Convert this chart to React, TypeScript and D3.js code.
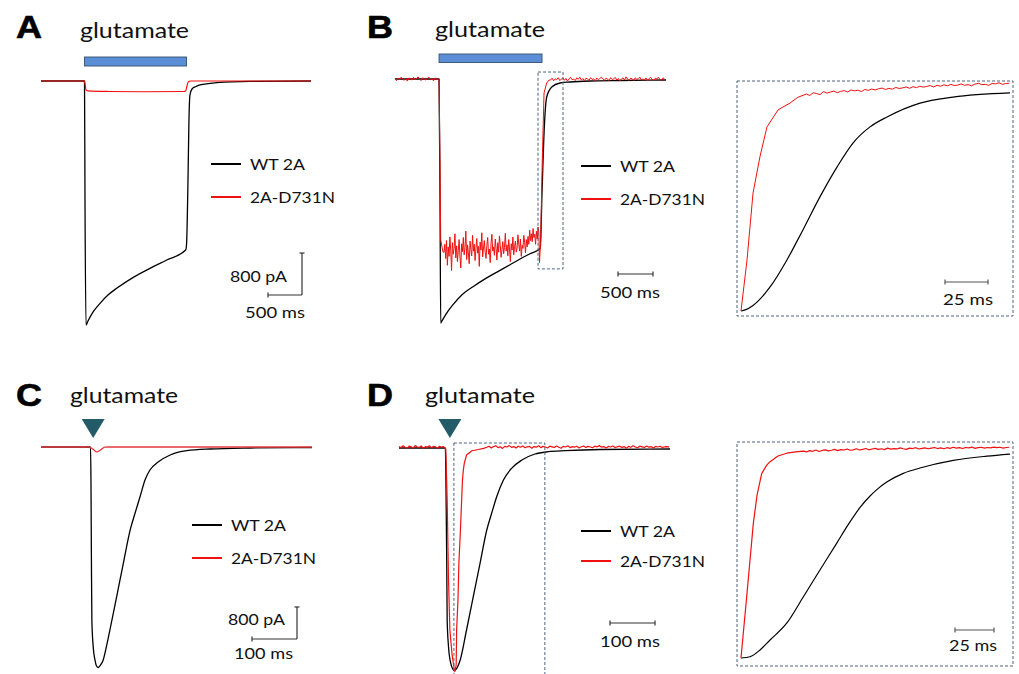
import React from 'react';
import * as d3 from 'd3';

type P = [number, number];

// ---------- helpers to assemble sampled segments ----------
const seg = (start: number, step: number, vals: number[]): P[] => vals.map((v, i) => [start + i * step, v] as P);
const merge = (...parts: P[][]): P[] => parts.flat().sort((a, b) => a[0] - b[0]);

// ---------- Panel A (time ms, current pA) ----------
const aGlutamate: [number, number] = [640, 2140];
const aBlack: P[] = [[0,0],[640,0],[647,-2268],[662,-4650],[691,-4574],[769,-4397],[868,-4237],[985,-4079],[1113,-3951],[1357,-3742],[1603,-3570],[1849,-3412],[2128,-3221],[2140,-3126],[2162,-1887],[2176,-743],[2191,-267],[2221,-152],[2279,-105],[2338,-76],[2584,-32],[3074,-6],[3971,0]];
const aRed: P[] = [[0,0],[640,0],[651,-80],[662,-170],[691,-190],[1000,-200],[1500,-205],[2100,-200],[2128,-190],[2150,-80],[2170,-10],[2200,0],[3971,0]];

// ---------- Panel B ----------
const bGlutamate: [number, number] = [629, 2100];
const bZoomWindow = { t: [2043, 2400], i: [133, -3619] };
const bBlack: P[] = [[0,0],[629,0],[643,-2300],[653,-4650],[671,-4610],[729,-4480],[829,-4300],[957,-4110],[1114,-3960],[1286,-3810],[1457,-3680],[1643,-3540],[1786,-3430],[1929,-3330],[2075,-3230],[2100,-2170],[2133,-914],[2167,-343],[2239,-152],[2357,-76],[2500,-57],[2786,-38],[3214,-29],[3871,-19]];
const bRedKeys: P[] = [[629,0],[643,-1543],[653,-3067],[686,-3300],[2056,-2950],[2064,-3500],[2080,-3100],[2104,-1543],[2129,-267],[2167,-76],[2200,-20]];
const bRedPre = [10,-30,20,-10,35,0,-25,15,-40,20,5,-20,30,-15,10,40,-5,-30,25,0,-20,15,35,-10,5,-35,20,0];
const bRedPlateau = [
  -3300,-3150,-3420,-3080,-3550,-3200,-3380,-3010,-3260,-3650,
  -3120,-3340,-3230,-2950,-3410,-3180,-3480,-3270,-3060,-3390,
  -3600,-3140,-3290,-3020,-3350,-3210,-2900,-3440,-3160,-3310,
  -3520,-3090,-3250,-3370,-2980,-3280,-3150,-3460,-3230,-3040,
  -3320,-3190,-3570,-3110,-3260,-2930,-3390,-3220,-3080,-3300,
  -3420,-3170,-3020,-3340,-3240,-3500,-3130,-2960,-3280,-3200,
  -3360,-3050,-3230,-3450,-3120,-3300,-2990,-3180,-3400,-3250,
  -3100,-3330,-3210,-2940,-3280,-3160,-3370,-3060,-3240,-3480,
  -3140,-3260,-3010,-3350,-3190,-3090,-3300,-3220,-2970,-3150,
  -3280,-3050,-3380,-3170,-3230,-2980,-3120,-3310,-3060,-3200,
  -3000,-3150,-2880,-3080,-2950,-3100,-2850,-3020,-2960,-3150,
  -2900,-3050,-2820];
const bRedPost = [-20,15,-35,5,-10,25,-30,0,20,-25,10,-40,5,30,-15,0,-30,20,-5,35,
  -20,10,-35,15,0,-25,25,-10,5,-40,20,-15,10,35,-5,-25,15,0,-30,25,
  -10,5,30,-20,10,-35,0,20,-15,40,-5,-25,15,5,-30,25,-10,10,35,-20,
  0,-15,20,-35,10,30,-5,-25,15,0,35,-10,-30,20,5];
const bRed: P[] = merge(seg(0, 22, bRedPre), bRedKeys, seg(700, 12, bRedPlateau), seg(2222, 22, bRedPost));

// ---------- Panel B inset (ms, normalized current) ----------
const biBlack: P[] = [[0,-1],[2.5,-0.995],[7,-0.976],[16.9,-0.896],[26.7,-0.779],[36,-0.649],[45.9,-0.506],[55.8,-0.377],[65.1,-0.273],[75,-0.203],[84.9,-0.160],[104.1,-0.100],[123.3,-0.074],[156.4,-0.056]];
const biRedKeys: P[] = [[0,-1],[3.5,-0.779],[7,-0.489],[11,-0.333],[15.1,-0.203],[21.5,-0.130],[24.4,-0.117],[28.5,-0.100],[33,-0.075]];
const biRedTail = [
  -0.061,-0.067,-0.055,-0.059,-0.063,-0.050,-0.057,-0.052,-0.048,-0.055,
  -0.049,-0.046,-0.052,-0.043,-0.047,-0.044,-0.050,-0.041,-0.045,-0.039,
  -0.043,-0.038,-0.035,-0.041,-0.036,-0.040,-0.032,-0.037,-0.034,-0.030,
  -0.036,-0.029,-0.033,-0.027,-0.031,-0.028,-0.024,-0.030,-0.023,-0.027,
  -0.021,-0.025,-0.019,-0.024,-0.022,-0.017,-0.023,-0.020,-0.025,-0.018,
  -0.014,-0.020,-0.019,-0.023,-0.015,-0.017,-0.012,-0.019,-0.015,-0.014];
const biRed: P[] = merge(biRedKeys, seg(38, 2, biRedTail));

// ---------- Panel C ----------
const cPuffTime = 117;
const cBlack: P[] = [[0,0],[110,0],[111,-825],[112,-2825],[113,-4325],[116,-4993],[120,-5325],[123,-5463],[127,-5508],[132,-5450],[138,-5325],[146,-4950],[153,-4575],[168,-3742],[183,-2900],[198,-2075],[209,-1650],[220,-1243],[231,-825],[242,-575],[261,-368],[287,-200],[324,-93],[376,-50],[464,-25],[602,-12]];
const cRed: P[] = [[0,0],[100,0],[104,10],[109,-10],[116,-60],[124,-120],[129,-100],[136,-40],[142,-5],[150,0],[602,0]];

// ---------- Panel D ----------
const dPuffTime = 112;
const dZoomWindow = { t: [122, 324], i: [125, -5700] };
const dBlack: P[] = [[0,0],[103,0],[104,-550],[106,-2800],[107,-4300],[110,-4968],[115,-5383],[119,-5513],[122,-5568],[128,-5513],[136,-5300],[150,-4550],[165,-3718],[180,-2883],[195,-2050],[206,-1625],[217,-1218],[232,-800],[250,-508],[273,-300],[302,-150],[332,-93],[369,-68],[447,-38],[602,-25]];
const dRedKeys: P[] = [[104,-25],[107,-1300],[110,-3300],[113,-4550],[118,-5175],[122,-5475],[124,-5592],[127,-5425],[128,-4550],[131,-3800],[133,-2875],[136,-2175],[138,-1625],[141,-800],[143,-550],[145,-383],[150,-175],[162,-68],[176,-38],[188,-8]];
const dRedPre = [40,10,55,20,-5,45,30,0,60,25,15,50,-10,35,20,55,5,40,30,-5,45,20,35];
const dRedPost = [20,45,0,35,55,10,30,-10,40,25,60,15,35,0,45,20,50,5,30,40,
  -5,35,20,55,10,40,25,0,45,30,15,50,20,-5,40,25,55,10,35,20,
  45,0,30,50,15,40,25,5,45,30,60,20,35,0,40,25,50,10,30,45,
  15,35,-5,40,20,55,25,5,45,30,15,50,20,35,0,40,25,45,10,30,
  35,20];
const dRed: P[] = merge(seg(0, 4.5, dRedPre), dRedKeys, seg(195, 5, dRedPost));

// ---------- Panel D inset ----------
const diBlack: P[] = [[0,-1],[5.8,-0.994],[12.2,-0.962],[18.6,-0.915],[29.3,-0.836],[40,-0.711],[50.6,-0.585],[61.3,-0.459],[68.8,-0.370],[76.3,-0.290],[82.7,-0.236],[88,-0.200],[93.4,-0.170],[104,-0.129],[114.7,-0.104],[136.1,-0.068],[157.5,-0.048],[172.4,-0.038]];
const diRedKeys: P[] = [[0,-1],[3.65,-0.711],[7.9,-0.365],[10.3,-0.231],[13.3,-0.129],[16.5,-0.090],[18.6,-0.074],[23.7,-0.047],[29.3,-0.034],[35,-0.028]];
const diRedTail = [
  -0.024,-0.028,-0.022,-0.025,-0.019,-0.026,-0.021,-0.018,-0.023,-0.020,
  -0.016,-0.022,-0.017,-0.019,-0.014,-0.020,-0.018,-0.013,-0.019,-0.016,
  -0.012,-0.018,-0.014,-0.011,-0.016,-0.013,-0.017,-0.010,-0.015,-0.012,
  -0.014,-0.009,-0.013,-0.016,-0.010,-0.012,-0.008,-0.014,-0.011,-0.009,
  -0.013,-0.010,-0.007,-0.012,-0.009,-0.013,-0.008,-0.011,-0.006,-0.010,
  -0.008,-0.012,-0.007,-0.009,-0.005,-0.011,-0.008,-0.006,-0.010,-0.007,
  -0.009,-0.005,-0.008,-0.006,-0.010,-0.007,-0.006];
const diRed: P[] = merge(diRedKeys, seg(40, 2, diRedTail));

// ---------- labels ----------
const seriesNames = ['WT 2A', '2A-D731N'];
const stimulusLabel = 'glutamate';
const panelLetters = ['A', 'B', 'C', 'D'];
const scaleCurrent = 800; // pA
const scaleTimeLong = 500; // ms
const scaleTimeShort = 100; // ms
const scaleTimeInset = 25; // ms

const TXT = "Lato, 'Open Sans', sans-serif";
const BOLD = "'Liberation Sans', Arial, sans-serif";
const RED = '#f01010';
const DASH = '#4f617d';
const BAR = '#333';

type Sc = d3.ScaleLinear<number, number>;

function Trace({ data, xs, ys, color, w = 1.2, curve = d3.curveMonotoneX }: { data: P[]; xs: Sc; ys: Sc; color: string; w?: number; curve?: any }) {
  const gen = d3.line<P>().x(d => xs(d[0])).y(d => ys(d[1])).curve(curve);
  return <path d={gen(data) || ''} fill="none" stroke={color} strokeWidth={w} strokeLinejoin="round" />;
}

function T({ x, y, s, len, size = 14.5, anchor = 'start' }: { x: number; y: number; s: string; len?: number; size?: number; anchor?: string }) {
  return (
    <text x={x} y={y} fontFamily={TXT} fontSize={size} fill="#111" textAnchor={anchor as any}
      {...(len ? { textLength: len, lengthAdjust: 'spacingAndGlyphs' } : {})}>{s}</text>
  );
}

function Legend({ x, y1, y2 }: { x: number; y1: number; y2: number }) {
  return (
    <g>
      <line x1={x} x2={x + 30} y1={y1} y2={y1} stroke="#000" strokeWidth={2} />
      <line x1={x} x2={x + 30} y1={y2} y2={y2} stroke={RED} strokeWidth={2} />
      <T x={x + 39} y={y1 + 5.5} s={seriesNames[0]} len={55} />
      <T x={x + 39} y={y2 + 5.5} s={seriesNames[1]} len={85} />
    </g>
  );
}

function HBar({ x, y, w, color = BAR }: { x: number; y: number; w: number; color?: string }) {
  return (
    <g stroke={color} strokeWidth={1.2}>
      <line x1={x} x2={x + w} y1={y} y2={y} />
      <line x1={x} x2={x} y1={y - 2.5} y2={y + 2.5} />
      <line x1={x + w} x2={x + w} y1={y - 2.5} y2={y + 2.5} />
    </g>
  );
}

function LBar({ x, y, w, h }: { x: number; y: number; w: number; h: number }) {
  return (
    <g stroke={BAR} strokeWidth={1.2}>
      <line x1={x - w} x2={x} y1={y} y2={y} />
      <line x1={x} x2={x} y1={y - h} y2={y} />
      <line x1={x - w} x2={x - w} y1={y - 2.5} y2={y + 2.5} />
      <line x1={x - 2.5} x2={x + 2.5} y1={y - h} y2={y - h} />
    </g>
  );
}

function Label({ x, y, s }: { x: number; y: number; s: string }) {
  return <text x={x} y={y} fontFamily={BOLD} fontWeight={700} fontSize={32} fill="#000" stroke="#000" strokeWidth={0.6} textLength={26} lengthAdjust="spacingAndGlyphs">{s}</text>;
}

export default function App() {
  const xA = d3.scaleLinear().domain([0, 3971]).range([41, 311]);
  const yA = d3.scaleLinear().domain([-4650, 0]).range([325, 81]);
  const xB = d3.scaleLinear().domain([0, 3871]).range([395, 666]);
  const yB = d3.scaleLinear().domain([-4650, 0]).range([323, 79]);
  const xBi = d3.scaleLinear().domain([0, 156.4]).range([741, 1010]);
  const yBi = d3.scaleLinear().domain([-1, 0]).range([311, 80]);
  const xC = d3.scaleLinear().domain([0, 602]).range([41, 312]);
  const yC = d3.scaleLinear().domain([-5520, 0]).range([668, 447]);
  const xD = d3.scaleLinear().domain([0, 602]).range([399, 670]);
  const yD = d3.scaleLinear().domain([-5600, 0]).range([672, 448]);
  const xDi = d3.scaleLinear().domain([0, 172.4]).range([741, 1010]);
  const yDi = d3.scaleLinear().domain([-1, 0]).range([658, 446]);

  const len = (s: Sc, v: number) => Math.abs(s(v) - s(0));
  const tri = (cx: number) => `M${cx - 11.5},419 L${cx + 11.5},419 L${cx},438 Z`;

  return (
    <svg width={1019} height={674} style={{ position: 'absolute', left: 0, top: 0, background: '#fff' }}>
      <rect x={0} y={0} width={1019} height={674} fill="#fff" />

      {/* ---------------- Panel A ---------------- */}
      <Label x={16} y={38} s={panelLetters[0]} />
      <T x={80} y={38} s={stimulusLabel} size={21} len={109} />
      <rect x={xA(aGlutamate[0])} y={57} width={xA(aGlutamate[1]) - xA(aGlutamate[0])} height={9} fill="#5b8ed6" stroke="#34506f" strokeWidth={0.9} />
      <Trace data={aBlack} xs={xA} ys={yA} color="#000" w={1.3} />
      <Trace data={aRed} xs={xA} ys={yA} color={RED} w={1.2} />
      <Legend x={211} y1={164} y2={197} />
      <LBar x={302} y={295} w={len(xA, scaleTimeLong)} h={len(yA, -scaleCurrent)} />
      <T x={287} y={282} s={`${scaleCurrent} pA`} len={57} anchor="end" />
      <T x={245} y={318} s={`${scaleTimeLong} ms`} len={60} />

      {/* ---------------- Panel B ---------------- */}
      <Label x={367} y={38} s={panelLetters[1]} />
      <T x={435} y={37} s={stimulusLabel} size={21} len={110} />
      <rect x={xB(bGlutamate[0])} y={54} width={xB(bGlutamate[1]) - xB(bGlutamate[0])} height={8.5} fill="#5b8ed6" stroke="#34506f" strokeWidth={0.9} />
      <Trace data={bBlack} xs={xB} ys={yB} color="#000" w={1.3} />
      <Trace data={bRed} xs={xB} ys={yB} color={RED} w={1} curve={d3.curveLinear} />
      <rect x={xB(bZoomWindow.t[0])} y={yB(bZoomWindow.i[0])} width={xB(bZoomWindow.t[1]) - xB(bZoomWindow.t[0])} height={yB(bZoomWindow.i[1]) - yB(bZoomWindow.i[0])} fill="none" stroke={DASH} strokeWidth={1} strokeDasharray="3 2" />
      <Legend x={581} y1={166} y2={199} />
      <HBar x={618} y={274} w={len(xB, scaleTimeLong)} />
      <T x={600} y={298} s={`${scaleTimeLong} ms`} len={60} />

      {/* B inset */}
      <rect x={737} y={81} width={276} height={235} fill="none" stroke={DASH} strokeWidth={1} strokeDasharray="3 2" />
      <Trace data={biBlack} xs={xBi} ys={yBi} color="#000" w={1.2} />
      <Trace data={biRed} xs={xBi} ys={yBi} color={RED} w={1} curve={d3.curveLinear} />
      <HBar x={945} y={282} w={len(xBi, scaleTimeInset)} color="#555" />
      <T x={943} y={305} s={`${scaleTimeInset} ms`} len={50} />

      {/* ---------------- Panel C ---------------- */}
      <Label x={16} y={406} s={panelLetters[2]} />
      <T x={70} y={403} s={stimulusLabel} size={21} len={108} />
      <path d={tri(xC(cPuffTime) - 0.5)} fill="#235b68" />
      <Trace data={cBlack} xs={xC} ys={yC} color="#000" w={1.3} />
      <Trace data={cRed} xs={xC} ys={yC} color="#e8383d" w={1.3} />
      <Legend x={192} y1={525} y2={558} />
      <LBar x={297} y={639} w={len(xC, scaleTimeShort)} h={len(yC, -scaleCurrent)} />
      <T x={285} y={625} s={`${scaleCurrent} pA`} len={57} anchor="end" />
      <T x={234} y={659} s={`${scaleTimeShort} ms`} len={59} />

      {/* ---------------- Panel D ---------------- */}
      <Label x={367} y={406} s={panelLetters[3]} />
      <T x={425} y={403} s={stimulusLabel} size={21} len={110} />
      <path d={tri(xD(dPuffTime) + 0.5)} fill="#235b68" />
      <Trace data={dBlack} xs={xD} ys={yD} color="#000" w={1.3} />
      <Trace data={dRed} xs={xD} ys={yD} color={RED} w={1.2} curve={d3.curveLinear} />
      <rect x={xD(dZoomWindow.t[0])} y={yD(dZoomWindow.i[0])} width={xD(dZoomWindow.t[1]) - xD(dZoomWindow.t[0])} height={yD(dZoomWindow.i[1]) - yD(dZoomWindow.i[0])} fill="none" stroke={DASH} strokeWidth={1} strokeDasharray="3 2" />
      <Legend x={581} y1={531} y2={561} />
      <HBar x={610} y={623} w={len(xD, scaleTimeShort)} />
      <T x={600} y={647} s={`${scaleTimeShort} ms`} len={60} />

      {/* D inset */}
      <rect x={737} y={442} width={276} height={224} fill="none" stroke={DASH} strokeWidth={1} strokeDasharray="3 2" />
      <Trace data={diBlack} xs={xDi} ys={yDi} color="#000" w={1.2} />
      <Trace data={diRed} xs={xDi} ys={yDi} color={RED} w={1.2} curve={d3.curveLinear} />
      <HBar x={955} y={630} w={len(xDi, scaleTimeInset)} color="#555" />
      <T x={949} y={651} s={`${scaleTimeInset} ms`} len={48} />
    </svg>
  );
}
